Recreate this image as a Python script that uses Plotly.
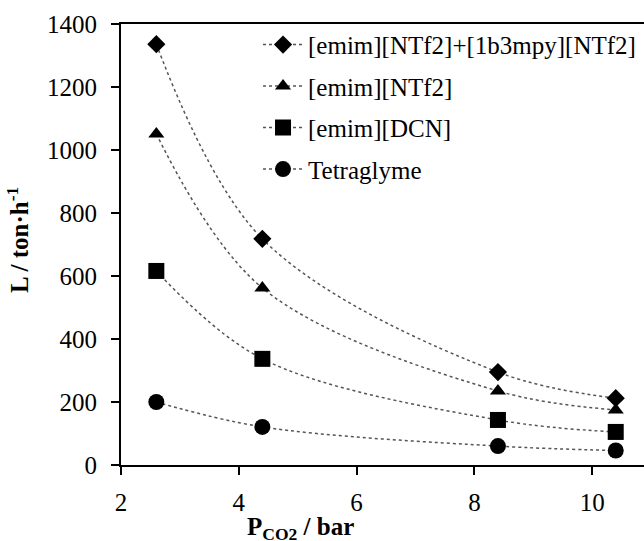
import plotly.graph_objects as go

pressure = [2.6, 4.4, 8.4, 10.4]
series_names = ["[emim][NTf2]+[1b3mpy][NTf2]", "[emim][NTf2]", "[emim][DCN]", "Tetraglyme"]
mix_vals = [1336, 718, 295, 212]
ntf2_vals = [1051, 562, 235, 175]
dcn_vals = [616, 337, 143, 105]
tetra_vals = [200, 121, 60, 46]
x_ticks = [2, 4, 6, 8, 10]
y_ticks = [0, 200, 400, 600, 800, 1000, 1200, 1400]

series_vals = [mix_vals, ntf2_vals, dcn_vals, tetra_vals]
symbols = ["diamond", "triangle-up", "square", "circle"]
sizes = [14, 14, 16, 16]

FONT = "Liberation Serif"
fig = go.Figure()
for i, (name, vals) in enumerate(zip(series_names, series_vals)):
    fig.add_trace(go.Scatter(
        x=pressure, y=vals, name=name, mode="lines+markers",
        line=dict(color="#555555", width=1.5, dash="dot", shape="spline", smoothing=1.0),
        marker=dict(symbol=symbols[i], size=sizes[i], color="black"),
        legendgroup=f"g{i}",
    ))

fig.update_layout(
    width=644, height=541,
    margin=dict(l=121, r=0, t=24, b=76),
    plot_bgcolor="white", paper_bgcolor="white",
    font=dict(family=FONT, size=25, color="black"),
    showlegend=True,
    legend=dict(x=0.262, y=1.005, xanchor="left", yanchor="top",
                bgcolor="rgba(0,0,0,0)", font=dict(family=FONT, size=25),
                tracegroupgap=6, itemwidth=40),
    xaxis=dict(range=[2, 10.88], tickvals=x_ticks, showline=True, linecolor="black",
               linewidth=2, mirror=True, ticks="outside", ticklen=8, tickwidth=2,
               tickcolor="black", showgrid=False, zeroline=False,
               tickfont=dict(family=FONT, size=25), ticklabelstandoff=6),
    yaxis=dict(range=[0, 1400], tickvals=y_ticks, showline=True, linecolor="black",
               linewidth=2, mirror=False, ticks="outside", ticklen=8, tickwidth=2,
               tickcolor="black", showgrid=False, zeroline=False,
               tickfont=dict(family=FONT, size=25), ticklabelstandoff=9),
    annotations=[
        dict(text="<b>L / ton·h<sup>-1</sup></b>", xref="paper", yref="paper",
             x=-0.197, y=0.51, xanchor="center", yanchor="middle", textangle=-90,
             showarrow=False, font=dict(family=FONT, size=25)),
        dict(text="<b>P<sub>CO2</sub> / bar</b>", xref="paper", yref="paper",
             x=0.343, y=-0.105, xanchor="center", yanchor="top",
             showarrow=False, font=dict(family=FONT, size=25)),
    ],
)
fig.write_html("out.html")
